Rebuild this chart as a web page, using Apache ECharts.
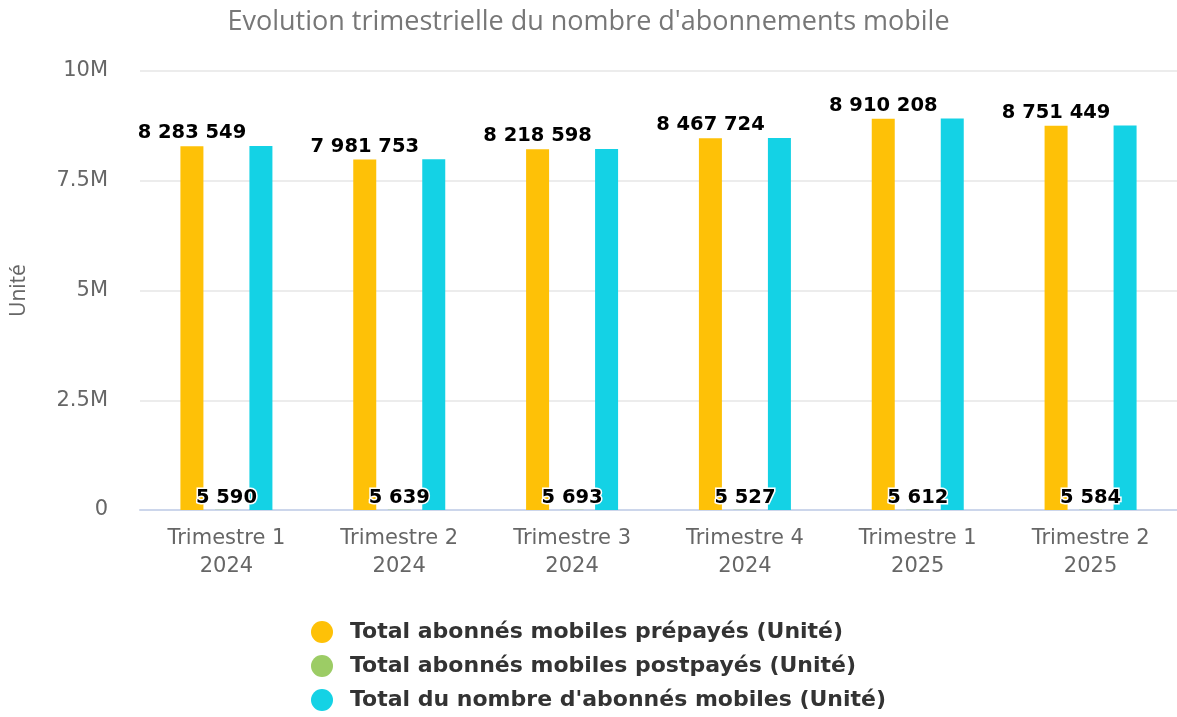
<!DOCTYPE html>
<html>
<head>
<meta charset="utf-8">
<script src="https://cdn.jsdelivr.net/npm/echarts@6/dist/echarts.min.js"></script>
<style>
  html, body { margin: 0; padding: 0; background: #fff; }
  #chart { width: 1177px; height: 717px; }
</style>
</head>
<body>
<div id="chart"></div>
<script>
// trimestres
const categories = [
  'Trimestre 1\n2024', 'Trimestre 2\n2024', 'Trimestre 3\n2024',
  'Trimestre 4\n2024', 'Trimestre 1\n2025', 'Trimestre 2\n2025'
]
const prepaye = [8283549, 7981753, 8218598, 8467724, 8910208, 8751449]
const postpaye = [5590, 5639, 5693, 5527, 5612, 5584]
const total = [8289139, 7987392, 8224291, 8473251, 8915820, 8757033]
const yTicks = [0, 2500000, 5000000, 7500000, 10000000]

const labelFont = 'DejaVu Sans, Verdana, sans-serif'
// separateur de milliers : espace
const fmt = v => String(v).replace(/\B(?=(\d{3})+(?!\d))/g, ' ')

const dataLabel = {
  show: true,
  position: 'top',
  distance: 3,
  color: '#000',
  fontFamily: labelFont,
  fontWeight: 'bold',
  fontSize: 19.5,
  textBorderColor: '#fff',
  textBorderWidth: 3,
  formatter: p => fmt(p.value)
}

const chart = echarts.init(document.getElementById('chart'))
chart.setOption({
  animation: false,
  title: {
    text: "Evolution trimestrielle du nombre d'abonnements mobile",
    left: 'center',
    top: 4,
    textStyle: { fontFamily: 'Open Sans, sans-serif', fontWeight: 'normal', fontSize: 27, color: '#777' }
  },
  grid: { left: 140, right: 0, top: 71, bottom: 207 },
  legend: {
    orient: 'vertical',
    left: 311,
    top: 621,
    padding: 0,
    icon: 'circle',
    itemWidth: 22,
    itemHeight: 22,
    itemGap: 12,
    textStyle: { fontFamily: labelFont, fontWeight: 'bold', fontSize: 22, color: '#333', padding: [0, 0, 0, 12] }
  },
  xAxis: {
    type: 'category',
    data: categories,
    axisLine: { lineStyle: { color: '#ccd6eb', width: 2 } },
    axisTick: { show: false },
    axisLabel: {
      fontFamily: labelFont,
      fontSize: 21,
      color: '#666',
      lineHeight: 28,
      margin: 15
    }
  },
  yAxis: {
    type: 'value',
    min: yTicks[0],
    max: yTicks[yTicks.length - 1],
    interval: yTicks[1] - yTicks[0],
    name: 'Unité',
    nameLocation: 'middle',
    nameGap: 110,
    nameRotate: 90,
    nameTextStyle: { fontFamily: 'Open Sans, sans-serif', fontSize: 21, color: '#666' },
    splitLine: { lineStyle: { color: '#e6e6e6', width: 1.5 } },
    axisLabel: {
      fontFamily: labelFont,
      fontSize: 21,
      color: '#666',
      margin: 32,
      formatter: v => (v === 0 ? '0' : v / 1e6 + 'M')
    }
  },
  series: [
    {
      name: 'Total abonnés mobiles prépayés (Unité)',
      type: 'bar',
      data: prepaye,
      barWidth: 23,
      barGap: '50%',
      itemStyle: { color: '#fec107' },
      label: dataLabel
    },
    {
      name: 'Total abonnés mobiles postpayés (Unité)',
      type: 'bar',
      data: postpaye,
      barWidth: 23,
      barGap: '50%',
      z: 5,
      itemStyle: { color: '#9ccc65' },
      label: Object.assign({}, dataLabel, { distance: 2 })
    },
    {
      name: "Total du nombre d'abonnés mobiles (Unité)",
      type: 'bar',
      data: total,
      barWidth: 23,
      barGap: '50%',
      itemStyle: { color: '#14d2e5' },
      label: { show: false }
    }
  ]
})
</script>
</body>
</html>
